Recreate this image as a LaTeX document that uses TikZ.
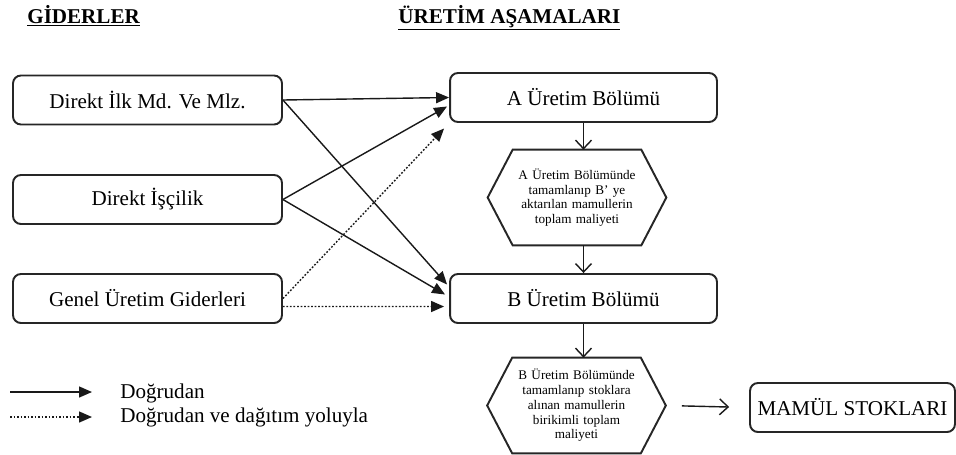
\documentclass[tikz,border=0pt]{standalone}
\usepackage{fontspec}
\setmainfont{Liberation Serif}
\usetikzlibrary{arrows.meta}

\begin{document}
\begin{tikzpicture}[x=0.02cm,y=-0.02cm,
  every node/.style={font=\fontsize{12}{14}\selectfont},
  costbox/.style={rectangle,draw=black!85,line width=1.1pt,rounded corners=4.5pt,
    minimum width=5.38cm,minimum height=0.98cm,inner sep=0pt},
  stagebox/.style={rectangle,draw=black!85,line width=1.1pt,rounded corners=4.5pt,
    minimum width=5.34cm,minimum height=0.98cm,inner sep=0pt},
  stockbox/.style={rectangle,draw=black!85,line width=1.1pt,rounded corners=4.5pt,
    minimum width=4.1cm,minimum height=0.98cm,inner sep=0pt},
  costhex/.style={rectangle,minimum width=3.56cm,minimum height=1.9cm,inner sep=0pt,
    align=center,text width=2.5cm,font=\fontsize{7.5}{8.4}\selectfont},
  hexline/.style={draw=black!85,line width=1.1pt,line join=miter},
  heading/.style={anchor=base west,inner sep=0pt,font=\fontsize{12}{14}\selectfont\bfseries},
  directarrow/.style={-{Triangle[length=0.26cm,width=0.22cm]},line width=0.8pt,black!90},
  spreadarrow/.style={-{Triangle[length=0.26cm,width=0.22cm]},line width=0.8pt,black!90,
    dash pattern=on 1pt off 1pt},
  steparrow/.style={-{Straight Barb[length=0.17cm,width=0.32cm]},line width=0.8pt,black!90},
]
\useasboundingbox (0,0) rectangle (956,454);

% ---------- Headings ----------
\node[heading] (h1) at (27,23) {\underline{GİDERLER}};
\node[heading] (h2) at (398,23) {\underline{ÜRETİM AŞAMALARI}};

% ---------- Cost items ----------
\node[costbox] (DM) at (147.5,100) {Direkt İlk Md. Ve Mlz.};
\node[costbox] (DL) at (147.5,199.5) {Direkt İşçilik};
\node[costbox] (GO) at (147.5,298.5) {Genel Üretim Giderleri};

% ---------- Production stages ----------
\node[stagebox] (A) at (583.5,97.5) {A Üretim Bölümü};
\node[costhex]  (HA) at (577,197.5) {A Üretim Bölümünde\\tamamlanıp B' ye\\aktarılan mamullerin\\toplam maliyeti};
\node[stagebox] (B) at (583.5,298.5) {B Üretim Bölümü};
\node[costhex]  (HB) at (576.5,405.5) {B Üretim Bölümünde\\tamamlanıp stoklara\\alınan mamullerin\\birikimli toplam\\maliyeti};
\node[stockbox] (MS) at (852.5,407.5) {MAMÜL STOKLARI};

% hexagon outlines
\foreach \h in {HA,HB}
  \draw[hexline] (\h.west) -- ([xshift=0.5cm]\h.north west) -- ([xshift=-0.5cm]\h.north east)
    -- (\h.east) -- ([xshift=-0.5cm]\h.south east) -- ([xshift=0.5cm]\h.south west) -- cycle;

% ---------- Cost flows ----------
\draw[directarrow] (DM.east) -- (A.west);
\draw[directarrow] (DM.east) -- ([shift={(-2,-14)}]B.west);
\draw[directarrow] (DL.east) -- ([shift={(-2,9)}]A.west);
\draw[directarrow] (DL.east) -- ([shift={(-4,-4)}]B.west);
\draw[spreadarrow] (GO.east) -- ([shift={(-5,31)}]A.west);
\draw[spreadarrow] ([yshift=-0.16cm]GO.east) -- ([shift={(-5,8)}]B.west);

% ---------- Stage flows ----------
\draw[steparrow] (A.south) -- (A.south |- HA.north);
\draw[steparrow] (A.south |- HA.south) -- (A.south |- B.north);
\draw[steparrow] (B.south) -- (B.south |- HB.north);
\draw[steparrow,shorten <=0.32cm,shorten >=0.4cm] (HB.east) -- (MS.west);

% ---------- Legend ----------
\coordinate (l1a) at (10,392);
\coordinate (l1b) at (92,392);
\coordinate (l2a) at (10,417);
\coordinate (l2b) at (92,417);
\draw[directarrow] (l1a) -- (l1b);
\draw[spreadarrow] (l2a) -- (l2b);
\node[anchor=base west,inner sep=0pt] (t1) at (120,398) {Doğrudan};
\node[anchor=base west,inner sep=0pt] (t2) at (120,422) {Doğrudan ve dağıtım yoluyla};

\end{tikzpicture}
\end{document}
